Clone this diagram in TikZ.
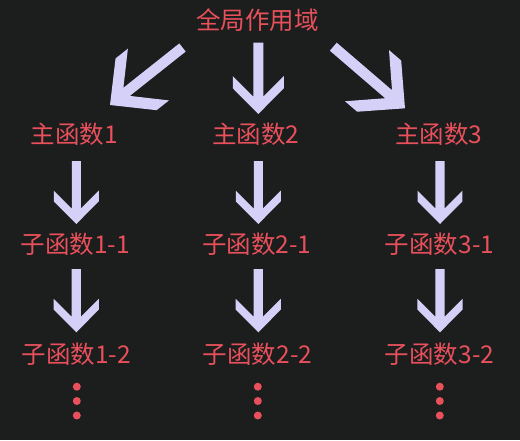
\documentclass[tikz,border=0pt]{standalone}
\usepackage{fontspec}
\newfontfamily\cjk{Noto Sans CJK SC}
\usetikzlibrary{calc}
\definecolor{bg}{HTML}{1C1D1D}
\definecolor{txt}{HTML}{E8505B}
\definecolor{arr}{HTML}{D4D0F8}
\tikzset{
  lbl/.style={text=txt, inner sep=0pt, font=\cjk\fontsize{24.5}{26}\selectfont},
  bigarrow/.style={fill=arr},
  dot/.style={fill=txt}
}
% #1 shaft half-width factor, #2 start node, #3 offset, #4 end node, #5 offset
\newcommand\fatarrow[5][0.072]{%
  \coordinate (fat) at ($(#2)+#3$);
  \coordinate (fap) at ($(#4)+#5$);
  \fill[bigarrow] ($(fat)!#1!90:(fap)$)
    -- ($(fat)!{0.827-#1}!(fap)!{#1/(0.173+#1)}!90:(fap)$)
    -- ($(fat)!0.47!(fap)!0.6736!90:(fap)$)
    -- ($(fat)!0.64!(fap)!0.9917!90:(fap)$)
    -- (fap)
    -- ($(fat)!0.64!(fap)!0.9917!-90:(fap)$)
    -- ($(fat)!0.47!(fap)!0.6736!-90:(fap)$)
    -- ($(fat)!{0.827-#1}!(fap)!{#1/(0.173+#1)}!-90:(fap)$)
    -- ($(fat)!#1!-90:(fap)$) -- cycle;}
\begin{document}
\begin{tikzpicture}[x=1pt,y=-1pt]
\fill[bg] (0,0) rectangle (520,440);
\useasboundingbox (0,0) rectangle (520,440);
\node[lbl] (title) at (257.5,20) {全局作用域};
\node[lbl] (m1) at (74.5,134) {主函数1};
\node[lbl] (m2) at (256,134) {主函数2};
\node[lbl] (m3) at (439,134) {主函数3};
\node[lbl] (s11) at (75.5,244.5) {子函数1-1};
\node[lbl] (s21) at (256.8,244.5) {子函数2-1};
\node[lbl] (s31) at (439.5,244.5) {子函数3-1};
\node[lbl] (s12) at (76.5,354) {子函数1-2};
\node[lbl] (s22) at (257.5,354) {子函数2-2};
\node[lbl] (s32) at (439.5,354) {子函数3-2};
% top arrows
\fatarrow[0.056]{title}{(-75,27.5)}{m1}{(35.5,-29)}
\fatarrow[0.07]{title}{(0.8,22.7)}{m2}{(2.3,-20)}
\fatarrow[0.056]{title}{(75.8,26.7)}{m3}{(-34,-25.7)}
% column arrows
\fatarrow{m1}{(1.8,27)}{s11}{(0.8,-20.5)}
\fatarrow{m2}{(2.3,27)}{s21}{(1.5,-20.5)}
\fatarrow{m3}{(1,27)}{s31}{(0.5,-20.5)}
\fatarrow{s11}{(0.8,24.5)}{s12}{(-0.2,-21.7)}
\fatarrow{s21}{(1.5,24.5)}{s22}{(0.8,-21.7)}
\fatarrow{s31}{(0.5,24.5)}{s32}{(0.5,-21.7)}
% dots
\foreach \n in {s12,s22,s32}{
  \foreach \d in {32.7,47,61.5}{
    \fill[dot] ($(\n)+(0.3,\d)$) circle (4);
  }
}
\end{tikzpicture}
\end{document}
